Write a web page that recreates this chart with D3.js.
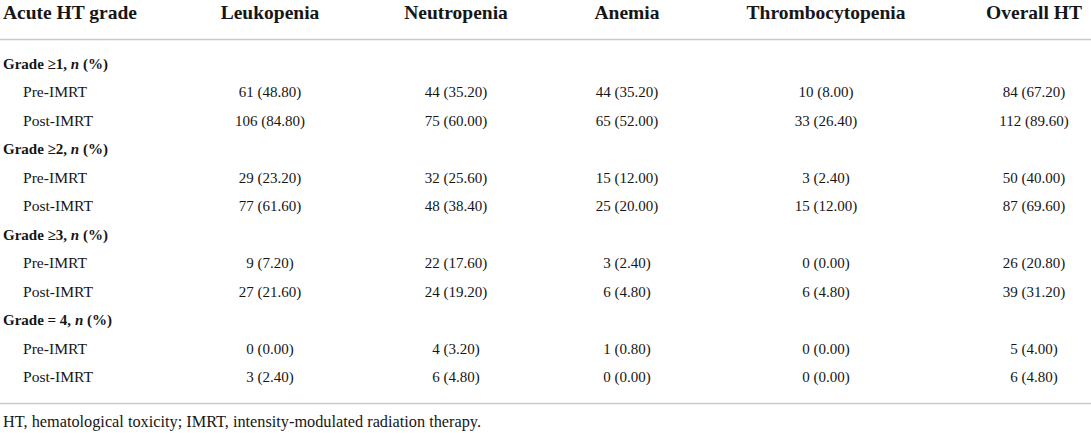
<!DOCTYPE html>
<html>
  <head>
    <meta charset="utf-8">
    <style>
      html, body {
        margin: 0px;
        padding: 0px;
        background: #fff;
      }
      svg {
        display: block;
      }
      text {
        font-family: "Liberation Serif", "DejaVu Serif", serif;
        fill: #161616;
      }
    </style>
  </head>
  <body>
    <svg id="table" width="1091" height="433"></svg>
    <script src="https://cdnjs.cloudflare.com/ajax/libs/d3/7.8.5/d3.min.js" charset="utf-8"></script>
    <script>
      var columns = ["Leukopenia", "Neutropenia", "Anemia", "Thrombocytopenia", "Overall HT"];
      var groups = ["Grade \u22651", "Grade \u22652", "Grade \u22653", "Grade = 4"];
      var phases = ["Pre-IMRT", "Post-IMRT"];

      // n per row: G1 pre, G1 post, G2 pre, G2 post, G3 pre, G3 post, G4 pre, G4 post
      var leukopeniaN = [61, 106, 29, 77, 9, 27, 0, 3];
      var leukopeniaPct = [48.80, 84.80, 23.20, 61.60, 7.20, 21.60, 0.00, 2.40];
      var neutropeniaN = [44, 75, 32, 48, 22, 24, 4, 6];
      var neutropeniaPct = [35.20, 60.00, 25.60, 38.40, 17.60, 19.20, 3.20, 4.80];
      var anemiaN = [44, 65, 15, 25, 3, 6, 1, 0];
      var anemiaPct = [35.20, 52.00, 12.00, 20.00, 2.40, 4.80, 0.80, 0.00];
      var thrombocytopeniaN = [10, 33, 3, 15, 0, 6, 0, 0];
      var thrombocytopeniaPct = [8.00, 26.40, 2.40, 12.00, 0.00, 4.80, 0.00, 0.00];
      var overallN = [84, 112, 50, 87, 26, 39, 5, 6];
      var overallPct = [67.20, 89.60, 40.00, 69.60, 20.80, 31.20, 4.00, 4.80];

      var footnote = "HT, hematological toxicity; IMRT, intensity-modulated radiation therapy.";

      var seriesN = [leukopeniaN, neutropeniaN, anemiaN, thrombocytopeniaN, overallN];
      var seriesPct = [leukopeniaPct, neutropeniaPct, anemiaPct, thrombocytopeniaPct, overallPct];

      var W = 1091, H = 433;
      var svg = d3.select("#table");
      var fmt = d3.format(".2f");

      // column centres
      var x = d3.scaleOrdinal().domain(columns).range([270, 456, 627, 826, 1034]);
      // row index -> text centre line
      var y = d3.scaleLinear().domain([0, 11]).range([64, 377]);
      var baseOff = 5;

      // header
      svg.append("text")
        .attr("x", 3).attr("y", 19)
        .style("font-size", "19.5px").style("font-weight", "bold")
        .text("Acute HT grade");
      svg.selectAll("text.colhead")
        .data(columns)
        .join("text")
        .attr("class", "colhead")
        .attr("x", function(d) { return x(d); })
        .attr("y", 19)
        .attr("text-anchor", "middle")
        .style("font-size", "19.5px").style("font-weight", "bold")
        .text(function(d) { return d; });

      // rules
      svg.append("line")
        .attr("x1", 0).attr("x2", W).attr("y1", 39.5).attr("y2", 39.5)
        .attr("stroke", "#c9c9c9").attr("stroke-width", 1.5);
      svg.append("line")
        .attr("x1", 0).attr("x2", W).attr("y1", 403.5).attr("y2", 403.5)
        .attr("stroke", "#c9c9c9").attr("stroke-width", 1.5);

      // rows
      var rows = [];
      groups.forEach(function(g, gi) {
        rows.push({type: "group", label: g, idx: gi * 3});
        phases.forEach(function(p, pi) {
          rows.push({type: "data", label: p, idx: gi * 3 + 1 + pi, k: gi * 2 + pi});
        });
      });

      rows.forEach(function(r) {
        var ty = y(r.idx) + baseOff;
        if (r.type === "group") {
          var t = svg.append("text")
            .attr("x", 3).attr("y", ty)
            .style("font-size", "15px").style("font-weight", "bold");
          t.append("tspan").text(r.label + ", ");
          t.append("tspan").style("font-style", "italic").text("n");
          t.append("tspan").text(" (%)");
        } else {
          svg.append("text")
            .attr("x", 23).attr("y", ty)
            .style("font-size", "15.6px")
            .text(r.label);
          svg.selectAll(null)
            .data(columns)
            .join("text")
            .attr("x", function(d) { return x(d); })
            .attr("y", ty)
            .attr("text-anchor", "middle")
            .style("font-size", "15px")
            .text(function(d, ci) {
              return seriesN[ci][r.k] + " (" + fmt(seriesPct[ci][r.k]) + ")";
            });
        }
      });

      svg.append("text")
        .attr("x", 3).attr("y", 427)
        .style("font-size", "16.3px")
        .text(footnote);
    </script>
  </body>
</html>
